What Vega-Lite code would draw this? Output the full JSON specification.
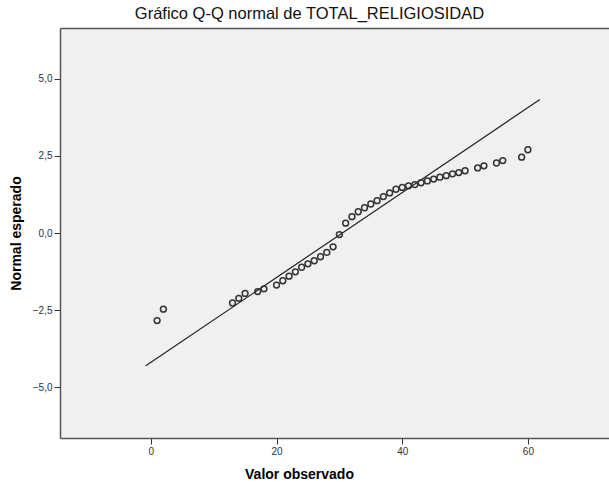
{
  "$schema": "https://vega.github.io/schema/vega-lite/v6.json",
  "width": 560,
  "height": 410,
  "autosize": {"type": "none"},
  "padding": {"left": 60, "top": 28, "right": 0, "bottom": 46},
  "background": "white",
  "title": {
    "text": "Gráfico Q-Q normal de TOTAL_RELIGIOSIDAD",
    "font": "Liberation Sans",
    "fontSize": 16.5,
    "fontWeight": "normal",
    "color": "#111111",
    "anchor": "middle",
    "dx": -30.5,
    "offset": 6
  },
  "config": {
    "view": {"fill": "#F0F0F0", "stroke": "transparent"},
    "axis": {
      "grid": false,
      "domain": true,
      "domainColor": "#555555",
      "domainWidth": 1.5,
      "tickColor": "#333333",
      "tickSize": 6,
      "labelFont": "Liberation Sans",
      "labelFontSize": 10,
      "labelColor": "#333333",
      "labelPadding": 2,
      "titleFont": "Liberation Sans",
      "titleFontSize": 14,
      "titleFontWeight": "bold",
      "titleColor": "#000000"
    }
  },
  "datasets": {
    "ref": [
      {"x": -0.8, "y": -4.31},
      {"x": 61.9, "y": 4.33}
    ],
    "pts": [
      {"x": 1, "y": -2.84},
      {"x": 2, "y": -2.47},
      {"x": 13, "y": -2.27},
      {"x": 14, "y": -2.12},
      {"x": 15, "y": -1.96},
      {"x": 17, "y": -1.9},
      {"x": 18, "y": -1.81},
      {"x": 20, "y": -1.69},
      {"x": 21, "y": -1.55},
      {"x": 22, "y": -1.4},
      {"x": 23, "y": -1.26},
      {"x": 24, "y": -1.11},
      {"x": 25, "y": -1.0},
      {"x": 26, "y": -0.9},
      {"x": 27, "y": -0.77},
      {"x": 28, "y": -0.63},
      {"x": 29, "y": -0.45},
      {"x": 30, "y": -0.05},
      {"x": 31, "y": 0.32},
      {"x": 32, "y": 0.53},
      {"x": 33, "y": 0.69},
      {"x": 34, "y": 0.82},
      {"x": 35, "y": 0.94},
      {"x": 36, "y": 1.05},
      {"x": 37, "y": 1.18},
      {"x": 38, "y": 1.3},
      {"x": 39, "y": 1.42},
      {"x": 40, "y": 1.48},
      {"x": 41, "y": 1.53},
      {"x": 42, "y": 1.57},
      {"x": 43, "y": 1.63},
      {"x": 44, "y": 1.69},
      {"x": 45, "y": 1.75},
      {"x": 46, "y": 1.81},
      {"x": 47, "y": 1.86},
      {"x": 48, "y": 1.92},
      {"x": 49, "y": 1.96},
      {"x": 50, "y": 2.02},
      {"x": 52, "y": 2.11},
      {"x": 53, "y": 2.18},
      {"x": 55, "y": 2.27},
      {"x": 56, "y": 2.35},
      {"x": 59, "y": 2.46},
      {"x": 60, "y": 2.7}
    ]
  },
  "resolve": {"axis": {"x": "independent"}},
  "layer": [
    {
      "data": {"name": "ref"},
      "mark": {"type": "line", "color": "#222222", "strokeWidth": 1.2},
      "encoding": {
        "x": {
          "field": "x", "type": "quantitative",
          "scale": {"domain": [-14.45, 74.65], "nice": false, "zero": false},
          "axis": {"values": [0, 20, 40, 60], "title": "Valor observado", "titlePadding": 11, "titleX": 239}
        },
        "y": {
          "field": "y", "type": "quantitative",
          "scale": {"domain": [-6.65, 6.65], "nice": false, "zero": false},
          "axis": {
            "values": [-5, -2.5, 0, 2.5, 5],
            "labelExpr": "replace(format(datum.value, '.1f'), '.', ',')",
            "title": "Normal esperado",
            "titlePadding": 9
          }
        }
      }
    },
    {
      "data": {"name": "pts"},
      "mark": {"type": "point", "shape": "circle", "filled": false, "stroke": "#333333", "strokeWidth": 1.5, "size": 34, "opacity": 1},
      "encoding": {
        "x": {
          "field": "x", "type": "quantitative",
          "axis": {"orient": "top", "labels": false, "ticks": false, "title": null, "domain": true}
        },
        "y": {"field": "y", "type": "quantitative"}
      }
    }
  ]
}
